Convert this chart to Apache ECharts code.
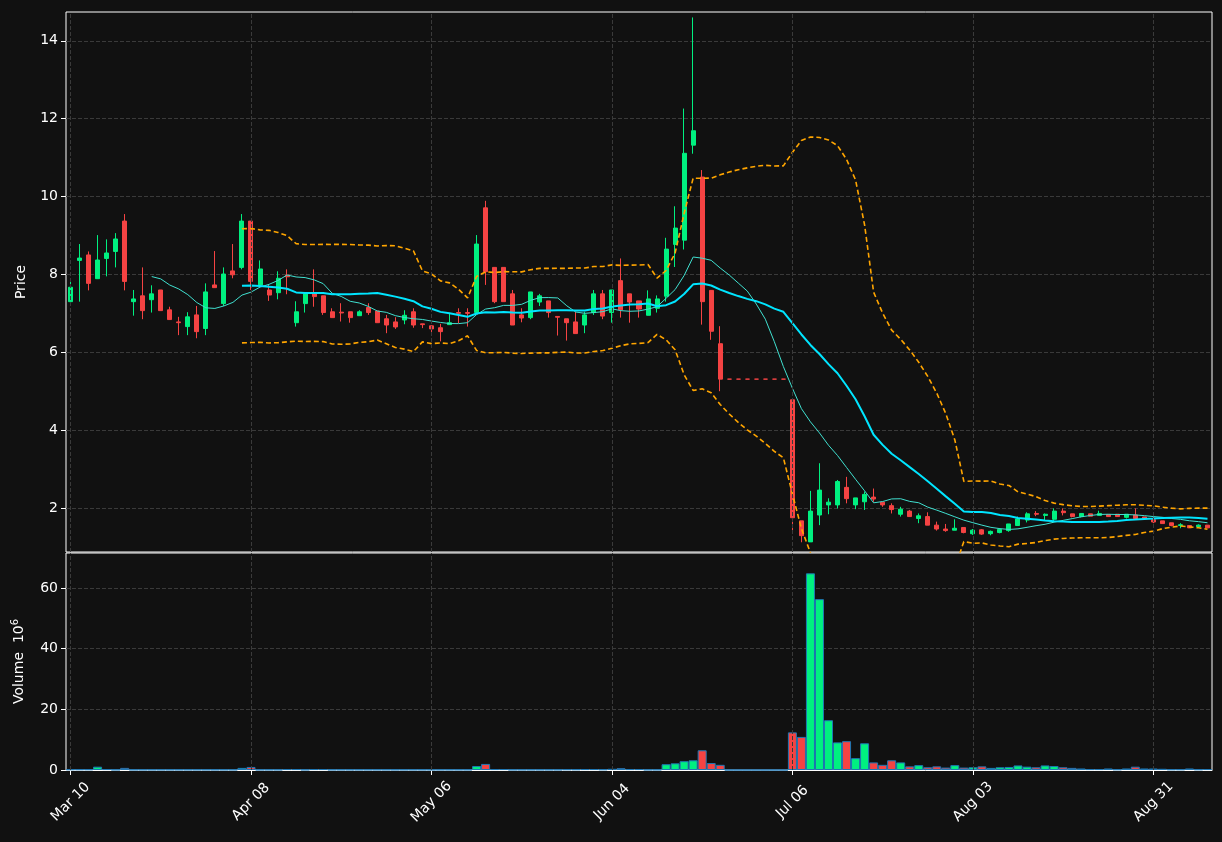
<!DOCTYPE html>
<html><head><meta charset="utf-8">
<script src="https://cdn.jsdelivr.net/npm/echarts@6/dist/echarts.min.js"></script>
<style>html,body{margin:0;padding:0;background:#111111;}#c{width:1222px;height:842px;}</style>
</head><body><div id="c"></div>
<script>
const tickLabels = ['Mar 10','Apr 08','May 06','Jun 04','Jul 06','Aug 03','Aug 31'];
const opens = [7.30,8.36,8.50,7.89,8.41,8.59,9.37,7.30,7.45,7.35,7.60,7.09,6.78,6.66,6.96,6.61,7.73,7.25,8.09,8.18,
9.37,7.73,7.60,7.53,7.98,6.76,7.25,7.50,7.45,7.04,7.03,7.04,6.94,7.15,7.06,6.86,6.78,6.83,7.04,6.73,
6.68,6.63,6.71,7.02,7.02,7.02,9.71,8.18,8.18,7.50,6.96,6.89,7.29,7.32,6.92,6.86,6.78,6.70,7.02,7.50,
7.02,7.84,7.50,7.32,6.95,7.13,7.44,8.77,8.88,11.32,10.50,7.59,6.22,5.31,5.31,5.31,5.31,5.31,5.31,5.31,
4.78,1.67,1.13,1.82,2.08,2.08,2.53,2.08,2.16,2.28,2.15,2.06,1.84,1.92,1.73,1.78,1.56,1.46,1.43,1.50,
1.34,1.44,1.34,1.37,1.42,1.55,1.69,1.86,1.81,1.71,1.92,1.85,1.78,1.85,1.81,1.83,1.84,1.76,1.82,1.77,
1.70,1.67,1.62,1.55,1.55,1.52,1.56];
const closes = [7.67,8.42,7.77,8.37,8.55,8.91,7.82,7.37,7.07,7.50,7.07,6.84,6.76,6.91,6.53,7.55,7.66,8.01,7.99,9.37,
7.82,8.14,7.47,7.90,7.94,7.04,7.50,7.43,7.02,6.89,7.01,6.89,7.04,7.02,6.76,6.70,6.65,6.95,6.70,6.71,
6.60,6.53,6.76,7.00,7.00,8.78,8.07,7.30,7.30,6.70,6.88,7.55,7.45,7.02,6.90,6.76,6.48,6.96,7.50,6.93,
7.60,7.09,7.29,7.11,7.37,7.37,8.65,9.19,11.11,11.69,7.30,6.54,5.31,5.31,5.31,5.31,5.31,5.31,5.31,5.31,
1.75,1.29,1.92,2.46,2.15,2.68,2.24,2.26,2.35,2.23,2.08,1.96,1.97,1.78,1.80,1.56,1.46,1.42,1.48,1.37,
1.43,1.33,1.40,1.45,1.59,1.72,1.85,1.84,1.84,1.92,1.88,1.78,1.86,1.79,1.86,1.78,1.78,1.84,1.73,1.74,
1.64,1.60,1.55,1.57,1.49,1.56,1.49];
const lows = [7.26,7.30,7.59,7.89,7.95,8.18,7.59,6.94,6.85,7.02,7.07,6.84,6.44,6.44,6.36,6.44,7.66,7.19,7.90,8.13,
7.60,7.70,7.32,7.36,7.49,6.66,7.02,7.17,6.96,6.89,6.79,6.76,6.94,6.96,6.76,6.49,6.60,6.72,6.63,6.62,
6.49,6.28,6.71,6.75,6.66,7.00,7.73,7.26,7.30,6.70,6.77,6.85,7.19,6.89,6.43,6.30,6.48,6.49,6.96,6.85,
6.76,6.89,6.76,6.89,6.95,7.02,7.30,8.19,8.64,11.10,6.71,6.32,5.00,5.31,5.31,5.31,5.31,5.31,5.31,5.31,
1.35,1.12,1.13,1.56,1.84,1.99,2.12,1.97,1.95,2.16,2.03,1.86,1.78,1.78,1.61,1.56,1.42,1.39,1.43,1.35,
1.31,1.31,1.30,1.35,1.39,1.55,1.63,1.79,1.69,1.67,1.81,1.76,1.76,1.79,1.81,1.78,1.78,1.73,1.71,1.71,
1.61,1.60,1.53,1.48,1.49,1.50,1.49];
const highs = [7.90,8.78,8.59,9.01,8.90,9.06,9.55,7.60,8.18,7.72,7.60,7.17,6.91,7.03,7.19,7.77,8.60,8.18,8.78,9.55,
9.37,8.36,7.73,8.08,8.13,7.31,7.50,8.13,7.45,7.13,7.26,7.04,7.08,7.26,7.06,6.96,6.90,7.08,7.13,6.73,
6.68,6.73,7.00,7.13,7.13,9.01,9.89,8.18,8.18,7.60,7.13,7.55,7.50,7.32,6.92,6.86,7.04,7.04,7.60,7.60,
7.60,8.41,7.50,7.32,7.59,7.46,8.94,9.75,12.26,14.60,10.68,7.59,6.67,5.31,5.31,5.31,5.31,5.31,5.31,5.31,
4.78,1.67,2.44,3.15,2.25,2.72,2.80,2.26,2.42,2.50,2.15,2.12,2.03,1.95,1.86,1.89,1.65,1.59,1.71,1.50,
1.46,1.46,1.42,1.47,1.59,1.78,1.89,1.92,1.86,1.99,1.99,1.85,1.86,1.85,1.93,1.83,1.84,1.84,1.99,1.77,
1.76,1.67,1.62,1.61,1.55,1.58,1.56];
const volumes = [0.2,0.2,0.2,1.1,0.3,0.1,0.7,0.1,0.1,0.1,0.1,0.1,0.1,0.1,0.1,0.1,0.1,0.1,0.1,0.7,
1.0,0.1,0.1,0.1,0.3,0.3,0.1,0.3,0.3,0.1,0.1,0.1,0.1,0.1,0.1,0.1,0.1,0.1,0.1,0.1,
0.1,0.1,0.1,0.1,0.1,1.3,2.0,0.3,0.3,0.1,0.1,0.1,0.1,0.1,0.1,0.2,0.2,0.3,0.3,0.2,
0.4,0.6,0.3,0.3,0.1,0.1,1.9,2.2,2.9,3.2,6.5,2.3,1.7,0,0,0,0,0,0,0,
12.4,10.9,64.8,56.3,16.4,9.1,9.5,3.9,8.8,2.5,1.7,3.2,2.5,1.2,1.6,0.9,1.2,0.8,1.6,0.8,
0.9,1.2,0.7,0.9,1.0,1.5,1.1,0.9,1.5,1.3,0.9,0.7,0.5,0.3,0.3,0.5,0.2,0.5,1.1,0.5,
0.5,0.4,0.2,0.2,0.5,0.2,0.3];

const UP = '#00f080', DOWN = '#f54343';
const cats = closes.map((_, i) => String(i));
function sma(p, i) { if (i < p - 1) return null; let s = 0; for (let k = i - p + 1; k <= i; k++) s += closes[k]; return s / p; }
const ma10 = closes.map((_, i) => sma(10, i));
const ma20 = closes.map((_, i) => sma(20, i));
const std20 = closes.map((_, i) => { if (i < 19) return null; const m = ma20[i]; let s = 0; for (let k = i - 19; k <= i; k++) s += (closes[k] - m) ** 2; return Math.sqrt(s / 20); });
const upper = ma20.map((m, i) => m == null ? null : m + 2 * std20[i]);
const lower = ma20.map((m, i) => m == null ? null : m - 2 * std20[i]);
const candles = closes.map((c, i) => {
  const item = { value: [opens[i], c, lows[i], highs[i]] };
  if (c === opens[i]) item.itemStyle = { color: DOWN, color0: DOWN, borderColor: DOWN, borderColor0: DOWN, borderColorDoji: DOWN };
  return item;
});
const vols = volumes.map((v, i) => ({ value: v, itemStyle: { color: closes[i] > opens[i] ? UP : DOWN } }));
const vGrid = { silent: true, symbol: 'none', label: { show: false }, animation: false,
  lineStyle: { color: '#3a3a3a', type: 'dashed', width: 1 },
  data: tickLabels.map((_, k) => ({ xAxis: String(k * 20) })) };

const txt = { color: '#ffffff', fontSize: 14, fontFamily: 'DejaVu Sans' };
const split = { show: true, lineStyle: { color: '#3a3a3a', type: 'dashed' } };
const chart = echarts.init(document.getElementById('c'));
chart.setOption({
  backgroundColor: '#111111',
  animation: false,
  grid: [
    { left: 66, right: 10, top: 12, height: 540, show: true, borderColor: '#ffffff', borderWidth: 1 },
    { left: 66, right: 10, top: 553, height: 217, show: true, borderColor: '#ffffff', borderWidth: 1 }
  ],
  xAxis: [
    { type: 'category', data: cats, gridIndex: 0, boundaryGap: true,
      axisLine: { show: false }, axisTick: { show: false }, axisLabel: { show: false }, splitLine: { show: false } },
    { type: 'category', data: cats, gridIndex: 1, boundaryGap: true,
      axisLine: { show: true, lineStyle: { color: '#ffffff' } },
      axisTick: { show: true, interval: 19, alignWithLabel: true, length: 5, lineStyle: { color: '#ffffff' } },
      axisLabel: Object.assign({ interval: 19, rotate: 45, align: 'center', verticalAlign: 'middle', margin: 32,
        formatter: (v) => tickLabels[Number(v) / 20] || '' }, txt),
      splitLine: { show: false } }
  ],
  yAxis: [
    { type: 'value', gridIndex: 0, min: 0.87, max: 14.74, name: 'Price', nameLocation: 'middle', nameGap: 38,
      nameTextStyle: txt, axisLine: { show: false },
      axisTick: { show: true, customValues: [2,4,6,8,10,12,14], lineStyle: { color: '#ffffff' } },
      axisLabel: Object.assign({ customValues: [2,4,6,8,10,12,14] }, txt), splitLine: split },
    { type: 'value', gridIndex: 1, min: 0, max: 71.5, name: 'Volume  10{s|6}', nameLocation: 'middle', nameGap: 38,
      nameTextStyle: Object.assign({ rich: { s: { fontSize: 10, verticalAlign: 'top', color: '#ffffff', padding: [0,0,8,0] } } }, txt),
      axisLine: { show: false },
      axisTick: { show: true, customValues: [0,20,40,60], lineStyle: { color: '#ffffff' } },
      axisLabel: Object.assign({ customValues: [0,20,40,60] }, txt), splitLine: split }
  ],
  series: [
    { type: 'line', xAxisIndex: 0, yAxisIndex: 0, data: [], z: 0, markLine: vGrid },
    { type: 'line', xAxisIndex: 1, yAxisIndex: 1, data: [], z: 0, markLine: vGrid },
    { type: 'candlestick', xAxisIndex: 0, yAxisIndex: 0, data: candles, barMaxWidth: 5, z: 2,
      itemStyle: { color: UP, color0: DOWN, borderColor: UP, borderColor0: DOWN, borderWidth: 1 } },
    { type: 'line', data: ma10, symbol: 'none', lineStyle: { color: '#40e0d0', width: 1 }, z: 3 },
    { type: 'line', data: ma20, symbol: 'none', lineStyle: { color: '#00e5ff', width: 2 }, z: 3 },
    { type: 'line', data: upper, symbol: 'none', lineStyle: { color: '#ffa500', width: 1.6, type: [5, 3] }, z: 3 },
    { type: 'line', data: lower, symbol: 'none', lineStyle: { color: '#ffa500', width: 1.6, type: [5, 3] }, z: 3 },
    { type: 'bar', xAxisIndex: 1, yAxisIndex: 1, data: vols, barCategoryGap: '0%', z: 2,
      itemStyle: { borderColor: '#1f77b4', borderWidth: 1 } }
  ]
});
</script></body></html>
